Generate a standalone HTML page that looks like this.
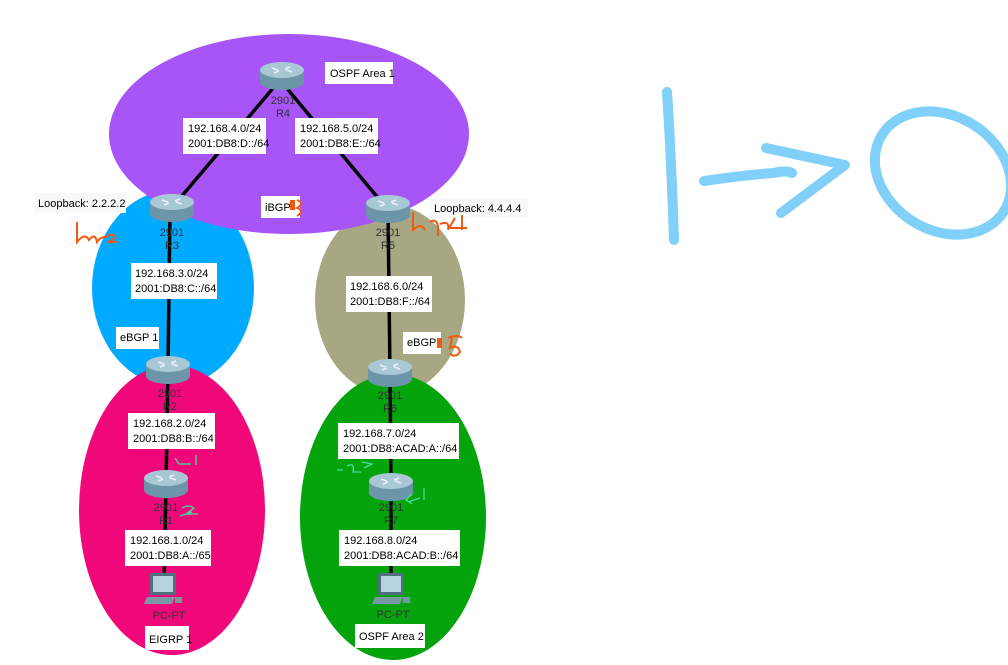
<!DOCTYPE html>
<html><head><meta charset="utf-8"><style>
body{margin:0;background:#fff;width:1008px;height:660px;overflow:hidden}
svg text{font-family:"Liberation Sans",sans-serif}
</style></head><body>
<svg width="1008" height="660" viewBox="0 0 1008 660">
<defs>
<g id="rt">
<path d="M-22,-6 v12 a22,8 0 0 0 44,0 v-12 z" fill="#6d95a8"/>
<ellipse cx="0" cy="-6" rx="22" ry="8" fill="#a9c8d6"/>
<path d="M-10,-8 l6,2 M10,-4 l-6,-2 M-8,-3 l5,-2 M8,-9 l-5,2" stroke="#eef" stroke-width="1.5"/>
</g>
<g id="pc">
<rect x="-14" y="-20" width="26" height="22" fill="#4f6f80"/>
<rect x="-11" y="-17" width="20" height="16" fill="#b5d2de"/>
<path d="M-17,4 h28 l-3,7 h-28 z" fill="#7a97a6"/>
<rect x="11" y="4" width="7" height="6" fill="#7a97a6"/>
</g>
</defs>
<ellipse cx="173" cy="288" rx="81" ry="98" fill="#00aaff"/>
<ellipse cx="390" cy="300" rx="75" ry="95" fill="#a8a784"/>
<ellipse cx="289" cy="134" rx="180" ry="100" fill="#a855f7"/>
<ellipse cx="172" cy="510" rx="93" ry="145" fill="#f0087a"/>
<ellipse cx="393" cy="517" rx="93" ry="143" fill="#05a30c"/>
<g stroke="#000" stroke-width="3.5">
<line x1="280" y1="80" x2="170" y2="210"/>
<line x1="280" y1="80" x2="388" y2="210"/>
<line x1="170" y1="210" x2="168" y2="370"/>
<line x1="168" y1="370" x2="166" y2="485"/>
<line x1="166" y1="485" x2="164" y2="585"/>
<line x1="388" y1="210" x2="390" y2="373"/>
<line x1="390" y1="373" x2="391" y2="487"/>
<line x1="391" y1="487" x2="391" y2="585"/>
</g>
<use href="#rt" x="282" y="76"/><use href="#rt" x="172" y="208"/><use href="#rt" x="388" y="209"/>
<use href="#rt" x="168" y="370"/><use href="#rt" x="166" y="484"/><use href="#rt" x="390" y="373"/><use href="#rt" x="391" y="487"/>
<use href="#pc" x="164" y="593"/><use href="#pc" x="392" y="593"/>
<g font-size="11" fill="#333" text-anchor="middle">
<text x="283" y="104">2901</text><text x="283" y="117">R4</text>
<text x="172" y="236">2901</text><text x="172" y="249">R3</text>
<text x="388" y="236">2901</text><text x="388" y="249">R5</text>
<text x="170" y="397">2901</text><text x="170" y="410">R2</text>
<text x="166" y="511">2901</text><text x="166" y="524">R1</text>
<text x="390" y="399">2901</text><text x="390" y="412">R6</text>
<text x="391" y="511">2901</text><text x="391" y="524">R7</text>
<text x="169" y="619">PC-PT</text><text x="393" y="618">PC-PT</text>
</g>
<g fill="#fff">
<rect x="325" y="62" width="68" height="22"/>
<rect x="183" y="118" width="83" height="36"/><rect x="295" y="118" width="83" height="36"/>
<rect x="261" y="196" width="39" height="22"/>
<rect x="34" y="193" width="92" height="20" fill="#f8f9fb"/>
<rect x="430" y="198" width="98" height="20" fill="#f8f9fb"/>
<rect x="131" y="263" width="86" height="36"/><rect x="346" y="276" width="86" height="36"/>
<rect x="116" y="327" width="43" height="22"/><rect x="403" y="332" width="38" height="22"/>
<rect x="128" y="413" width="87" height="36"/><rect x="338" y="423" width="121" height="36"/>
<rect x="125" y="530" width="86" height="36"/><rect x="339" y="530" width="121" height="36"/>
<rect x="145" y="626" width="44" height="24"/><rect x="355" y="624" width="70" height="24"/>
</g>
<g font-size="11" fill="#000">
<text x="330" y="77">OSPF Area 1</text>
<text x="188" y="132">192.168.4.0/24</text><text x="188" y="147">2001:DB8:D::/64</text>
<text x="300" y="132">192.168.5.0/24</text><text x="300" y="147">2001:DB8:E::/64</text>
<text x="265" y="211">iBGP</text>
<text x="38" y="207">Loopback: 2.2.2.2</text>
<text x="434" y="212">Loopback: 4.4.4.4</text>
<text x="135" y="277">192.168.3.0/24</text><text x="135" y="292">2001:DB8:C::/64</text>
<text x="350" y="290">192.168.6.0/24</text><text x="350" y="305">2001:DB8:F::/64</text>
<text x="120" y="341">eBGP 1</text><text x="407" y="346">eBGP</text>
<text x="133" y="427">192.168.2.0/24</text><text x="133" y="442">2001:DB8:B::/64</text>
<text x="343" y="437">192.168.7.0/24</text><text x="343" y="452">2001:DB8:ACAD:A::/64</text>
<text x="130" y="544">192.168.1.0/24</text><text x="130" y="559">2001:DB8:A::/65</text>
<text x="344" y="544">192.168.8.0/24</text><text x="344" y="559">2001:DB8:ACAD:B::/64</text>
<text x="149" y="643">EIGRP 1</text><text x="359" y="640">OSPF Area 2</text>
</g>
<g fill="none" stroke="#f05a10" stroke-width="2">
<path d="M297,200 q8,3 0,8 q8,3 0,8"/>
<path d="M77,222 v20 q8,-10 12,-2 q6,-8 8,2 q4,-6 10,-5 q4,-5 8,0 q-4,5 -8,5 h10"/>
<path d="M413,212 v18 q8,-8 12,0 M430,222 q6,-4 8,4 v10 M440,224 q10,-4 8,6 M455,218 l-6,10 h18 M462,215 v15"/>
<path d="M448,338 q10,-4 14,0 M452,338 l-2,10 q8,-4 10,4 q-4,6 -10,2"/>
</g>
<rect x="290" y="200" width="5" height="10" fill="#f05a10"/>
<rect x="437" y="338" width="5" height="10" fill="#f05a10"/>
<g fill="none" stroke="#40e0a0" stroke-width="1.3">
<path d="M175,458 l4,6 h12 M196,455 v10 M180,516 l12,-4 M182,508 q6,-4 12,0 l-8,6 h12"/>
<path d="M337,470 h6 M347,466 q8,-4 6,6 h8 M362,462 l10,2 l-8,4 M408,502 l12,-4 M412,494 l-6,6 l6,4 M424,488 v12"/>
</g>
<g fill="none" stroke="#80d0fa" stroke-width="10" stroke-linecap="round" stroke-linejoin="round">
<path d="M667,92 q4,60 7,148"/>
<path d="M704,181 q40,-6 70,-8 q12,-3 18,0"/>
<path d="M766,148 l79,17 l-64,48"/>
<ellipse cx="943" cy="173" rx="72" ry="57" transform="rotate(32 943 173)"/>
</g>
</svg>
</body></html>
